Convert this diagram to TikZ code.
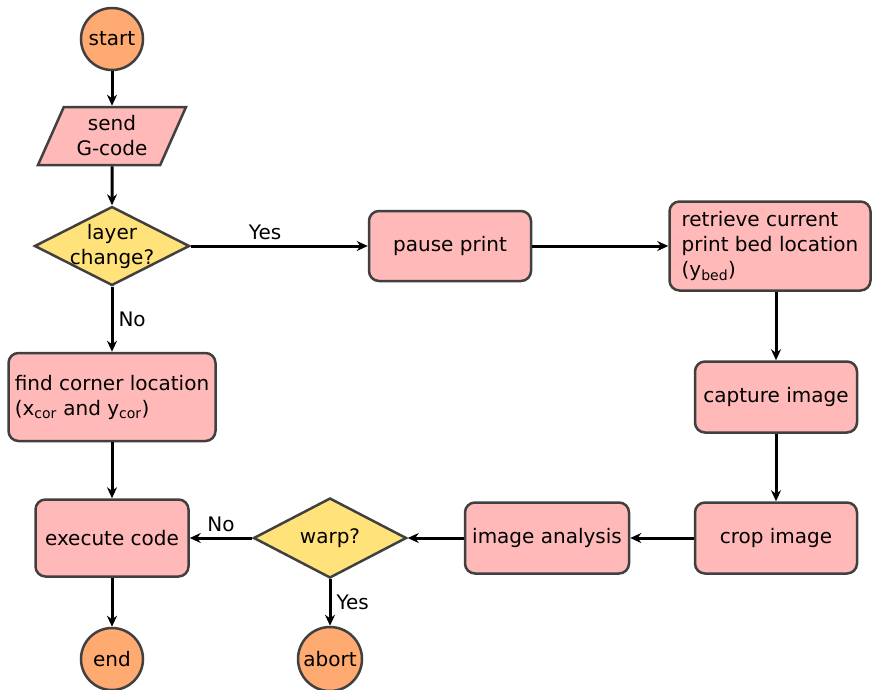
\documentclass[tikz,border=0pt]{standalone}
\usepackage{fontspec}
\setmainfont{DejaVu Sans}
\usetikzlibrary{arrows.meta,shapes.geometric}
\definecolor{termfill}{RGB}{255,170,112}
\definecolor{stepfill}{RGB}{255,185,185}
\definecolor{askfill}{RGB}{255,226,122}
\definecolor{edgegray}{RGB}{64,64,64}
\tikzset{box/.style={draw=edgegray,line width=2.5pt,rounded corners=10pt,fill=stepfill,align=center,inner sep=0pt},
  term/.style={circle,draw=edgegray,line width=2.5pt,fill=termfill,minimum size=62pt,inner sep=0pt},
  ask/.style={diamond,draw=edgegray,line width=2.5pt,fill=askfill,aspect=1.95,inner sep=-5pt,align=center,minimum width=155pt,minimum height=79pt},
  io/.style={trapezium,trapezium left angle=57.5,trapezium right angle=122.5,trapezium stretches body,draw=edgegray,line width=2.5pt,fill=stepfill,align=center,inner sep=0pt,minimum width=148pt,minimum height=58pt},
  arr/.style={-{Stealth[length=11pt,width=10pt]},line width=3pt},
  lbl/.style={inner sep=5pt}}

\begin{document}
\begin{tikzpicture}[x=1pt,y=-1pt,font=\fontsize{20}{25}\selectfont]
\useasboundingbox (0,0) rectangle (872,689);
\node[term] (start) at (112,39) {start};
\node[io] (send) at (112,136) {send\\G-code};
\node[ask] (layer) at (112,246) {layer\\change?};
\node[box,minimum width=162pt,minimum height=70pt] (pause) at (450,246) {pause print};
\node[box,align=left,minimum width=201pt,minimum height=89pt] (bed) at (770,246) {retrieve current\\print bed location\\(y\textsubscript{bed})};
\node[box,minimum width=162pt,minimum height=71pt] (capture) at (776,397) {capture image};
\node[box,minimum width=162pt,minimum height=71pt] (crop) at (776,538) {crop image};
\node[box,minimum width=164pt,minimum height=71pt] (analysis) at (547,538) {image analysis};
\node[ask,minimum width=153pt,minimum height=80pt] (warp) at (330,538) {warp?};
\node[box,align=left,minimum width=207pt,minimum height=88pt] (corner) at (112,397) {find corner location\\(x\textsubscript{cor} and y\textsubscript{cor})};
\node[box,minimum width=153pt,minimum height=77pt] (exec) at (112,538) {execute code};
\node[term] (end) at (112,659) {end};
\node[term,minimum size=64pt] (abort) at (330,659) {abort};

\foreach \a/\b in {start/send,send/layer,pause/bed,capture/crop,crop/analysis,analysis/warp,corner/exec,exec/end}
  \draw[arr] (\a) -- (\b);
\draw[arr] (bed.south -| capture.north) -- (capture.north);
\draw[arr] (layer) -- node[lbl,above,pos=0.42] {Yes} (pause);
\draw[arr] (layer) -- node[lbl,right] {No} (corner);
\draw[arr] (warp) -- node[lbl,above] {No} (exec);
\draw[arr] (warp) -- node[lbl,right] {Yes} (abort);
\end{tikzpicture}
\end{document}
